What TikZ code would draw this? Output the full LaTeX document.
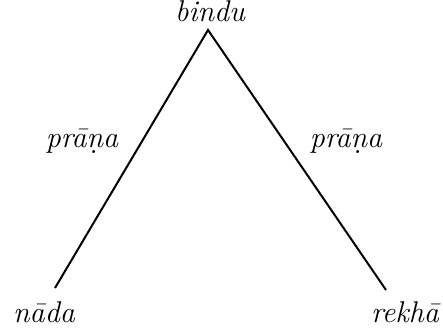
\documentclass[tikz,border=0pt]{standalone}
\usepackage{tikz}
\usetikzlibrary{positioning, calc}

\begin{document}
\begin{tikzpicture}[
        x=0.5pt, y=-0.5pt,
        font=\fontsize{15}{18}\selectfont\itshape,
        term/.style={anchor=base, inner sep=0pt},
        lbl/.style={anchor=base, inner sep=0pt},
        edge/.style={line width=1pt, line join=miter}
    ]
        \useasboundingbox (0,0) rectangle (443,330);

        % --- Чворови ---
        \node[term] (bindu) at (210,22) {bindu};
        \node[term] (nada) at (44,322) {n\=ada};
        \node[term] (rekha) at (405,322) {rekh\=a};

        % --- Ивице ---
        \coordinate (apex) at (208,30);
        \coordinate (lend) at (55,288);
        \coordinate (rend) at (386,290);
        \draw[edge] (lend) -- (apex) -- (rend);

        \node[lbl] (pranaL) at (82,148) {pr\=a\d{n}a};
        \node[lbl] (pranaR) at (346,148) {pr\=a\d{n}a};
    \end{tikzpicture}
\end{document}
